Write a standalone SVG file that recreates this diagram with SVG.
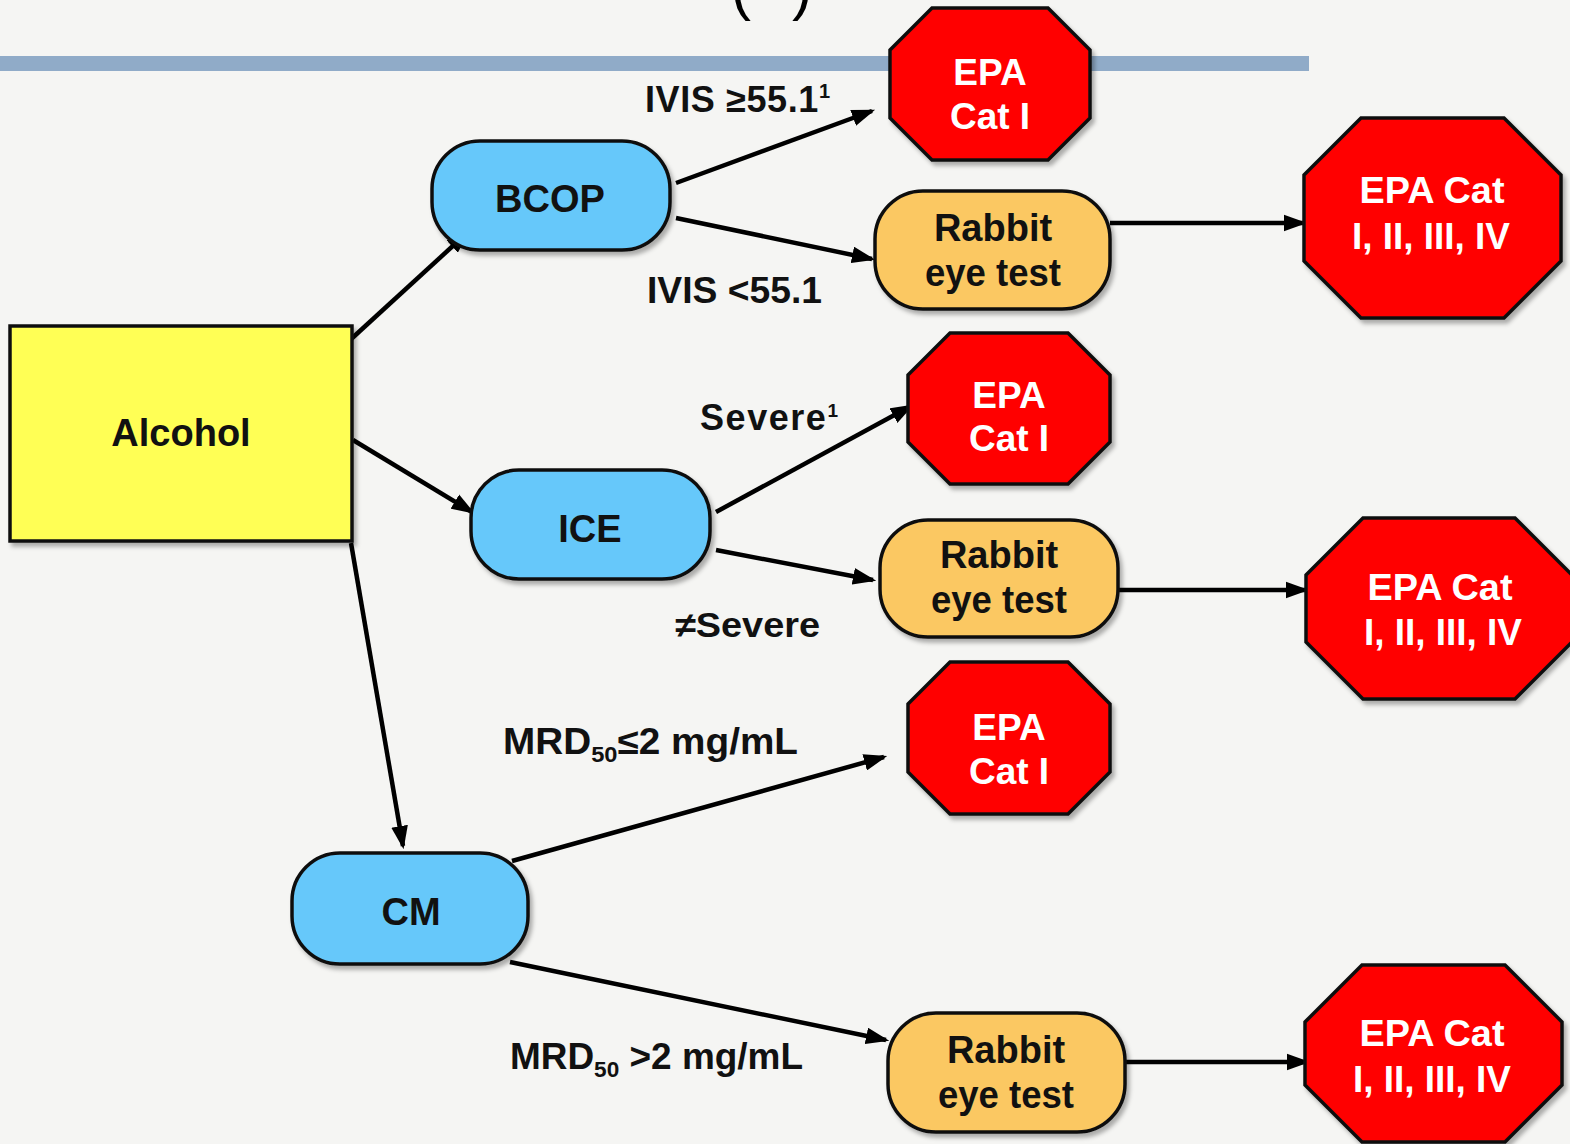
<svg xmlns="http://www.w3.org/2000/svg" width="1570" height="1144" viewBox="0 0 1570 1144">
<defs>
<style>
text{font-family:"Liberation Sans",Arial,sans-serif;font-weight:bold}
.lbl{font-size:36px;fill:#111}
.nt{font-size:38px;fill:#111;text-anchor:middle}
.wt{font-size:37px;fill:#fff;text-anchor:middle}
.oct{fill:#ff0000;stroke:#111;stroke-width:3.5;filter:url(#sh)}
.blue{fill:#66c8fa;stroke:#111;stroke-width:3.5;filter:url(#sh)}
.orange{fill:#fbc862;stroke:#111;stroke-width:3.5;filter:url(#sh)}
.edge{stroke:#000;stroke-width:4.5;fill:none;marker-end:url(#ah)}
</style>
<marker id="ah" viewBox="0 0 14 10" refX="12" refY="5" markerWidth="5.2" markerHeight="3.8" orient="auto" markerUnits="strokeWidth">
<path d="M0,0 L14,5 L0,10 z" fill="#000"/>
</marker>
<filter id="sh" x="-10%" y="-10%" width="125%" height="125%">
<feDropShadow dx="3" dy="4" stdDeviation="2" flood-color="#000" flood-opacity="0.3"/>
</filter>
</defs>
<rect width="1570" height="1144" fill="#f5f5f3"/>
<rect x="0" y="56" width="1309" height="15" fill="#90abc8"/>
<text x="731" y="9" style="font-size:60px;font-weight:normal" fill="#000">(</text>
<text x="792" y="9" style="font-size:60px;font-weight:normal" fill="#000">)</text>

<g id="connectors">
<line class="edge" x1="349" y1="341" x2="467" y2="233"/>
<line class="edge" x1="676" y1="183" x2="872" y2="111"/>
<line class="edge" x1="676" y1="218" x2="872" y2="259"/>
<line class="edge" x1="1110" y1="223" x2="1304" y2="223"/>
<line class="edge" x1="353" y1="440" x2="472" y2="512"/>
<line class="edge" x1="716" y1="512" x2="911" y2="406"/>
<line class="edge" x1="716" y1="550" x2="873" y2="580"/>
<line class="edge" x1="1118" y1="590" x2="1306" y2="590"/>
<line class="edge" x1="351" y1="543" x2="403" y2="846"/>
<line class="edge" x1="512" y1="861" x2="884" y2="757"/>
<line class="edge" x1="510" y1="962" x2="886" y2="1040"/>
<line class="edge" x1="1125" y1="1062" x2="1307" y2="1062"/>
</g>

<g id="alcohol">
<rect x="10" y="326" width="342" height="215" fill="#ffff55" stroke="#111" stroke-width="3.5" filter="url(#sh)"/>
<text class="nt" x="181" y="446">Alcohol</text>
</g>

<g id="bcop">
<rect class="blue" x="432" y="141" width="238" height="109" rx="48" ry="48"/>
<text class="nt" x="550" y="212">BCOP</text>
</g>
<g id="ice">
<rect class="blue" x="471" y="470" width="239" height="109" rx="48" ry="48"/>
<text class="nt" x="590" y="542">ICE</text>
</g>
<g id="cm">
<rect class="blue" x="292" y="853" width="236" height="111" rx="48" ry="48"/>
<text class="nt" x="411" y="925">CM</text>
</g>

<g id="epa1">
<polygon class="oct" points="932,8 1048,8 1090,50 1090,118 1048,160 932,160 890,118 890,50"/>
<text class="wt" x="990" y="85">EPA</text>
<text class="wt" x="990" y="129">Cat I</text>
</g>
<g id="epa2">
<polygon class="oct" points="950,333 1068,333 1110,375 1110,442 1068,484 950,484 908,442 908,375"/>
<text class="wt" x="1009" y="408">EPA</text>
<text class="wt" x="1009" y="451">Cat I</text>
</g>
<g id="epa3">
<polygon class="oct" points="950,662 1068,662 1110,704 1110,772 1068,814 950,814 908,772 908,704"/>
<text class="wt" x="1009" y="740">EPA</text>
<text class="wt" x="1009" y="784">Cat I</text>
</g>

<g id="rabbit1">
<rect class="orange" x="875" y="191" width="235" height="118" rx="48" ry="48"/>
<text class="nt" x="993" y="241">Rabbit</text>
<text class="nt" x="993" y="286" textLength="136" lengthAdjust="spacingAndGlyphs">eye test</text>
</g>
<g id="rabbit2">
<rect class="orange" x="880" y="520" width="238" height="117" rx="48" ry="48"/>
<text class="nt" x="999" y="568">Rabbit</text>
<text class="nt" x="999" y="613" textLength="136" lengthAdjust="spacingAndGlyphs">eye test</text>
</g>
<g id="rabbit3">
<rect class="orange" x="888" y="1013" width="237" height="119" rx="48" ry="48"/>
<text class="nt" x="1006" y="1063">Rabbit</text>
<text class="nt" x="1006" y="1108" textLength="136" lengthAdjust="spacingAndGlyphs">eye test</text>
</g>

<g id="epacat1">
<polygon class="oct" points="1361,118 1504,118 1561,175 1561,261 1504,318 1361,318 1304,261 1304,175"/>
<text class="wt" x="1432" y="203" textLength="145" lengthAdjust="spacingAndGlyphs">EPA Cat</text>
<text class="wt" x="1431" y="249" textLength="158" lengthAdjust="spacingAndGlyphs">I, II, III, IV</text>
</g>
<g id="epacat2">
<polygon class="oct" points="1363,518 1515,518 1572,575 1572,642 1515,699 1363,699 1306,642 1306,575"/>
<text class="wt" x="1440" y="600" textLength="145" lengthAdjust="spacingAndGlyphs">EPA Cat</text>
<text class="wt" x="1443" y="645" textLength="158" lengthAdjust="spacingAndGlyphs">I, II, III, IV</text>
</g>
<g id="epacat3">
<polygon class="oct" points="1362,965 1505,965 1562,1022 1562,1085 1505,1142 1362,1142 1305,1085 1305,1022"/>
<text class="wt" x="1432" y="1046" textLength="145" lengthAdjust="spacingAndGlyphs">EPA Cat</text>
<text class="wt" x="1432" y="1092" textLength="158" lengthAdjust="spacingAndGlyphs">I, II, III, IV</text>
</g>

<g id="labels">
<text class="lbl" x="645" y="112" textLength="185" lengthAdjust="spacing">IVIS ≥55.1<tspan font-size="20" dy="-14">1</tspan></text>
<text class="lbl" x="647" y="303" textLength="175" lengthAdjust="spacingAndGlyphs">IVIS &lt;55.1</text>
<text class="lbl" x="700" y="430" textLength="138" lengthAdjust="spacing">Severe<tspan font-size="19" dy="-13">1</tspan></text>
<text class="lbl" x="675" y="637" style="font-size:35px" textLength="145" lengthAdjust="spacingAndGlyphs">≠Severe</text>
<text class="lbl" x="503" y="754" textLength="295" lengthAdjust="spacingAndGlyphs">MRD<tspan font-size="22" dy="8">50</tspan><tspan dy="-8">≤2 mg/mL</tspan></text>
<text class="lbl" x="510" y="1069" textLength="293" lengthAdjust="spacingAndGlyphs">MRD<tspan font-size="22" dy="8">50</tspan><tspan dy="-8"> &gt;2 mg/mL</tspan></text>
</g>
</svg>
